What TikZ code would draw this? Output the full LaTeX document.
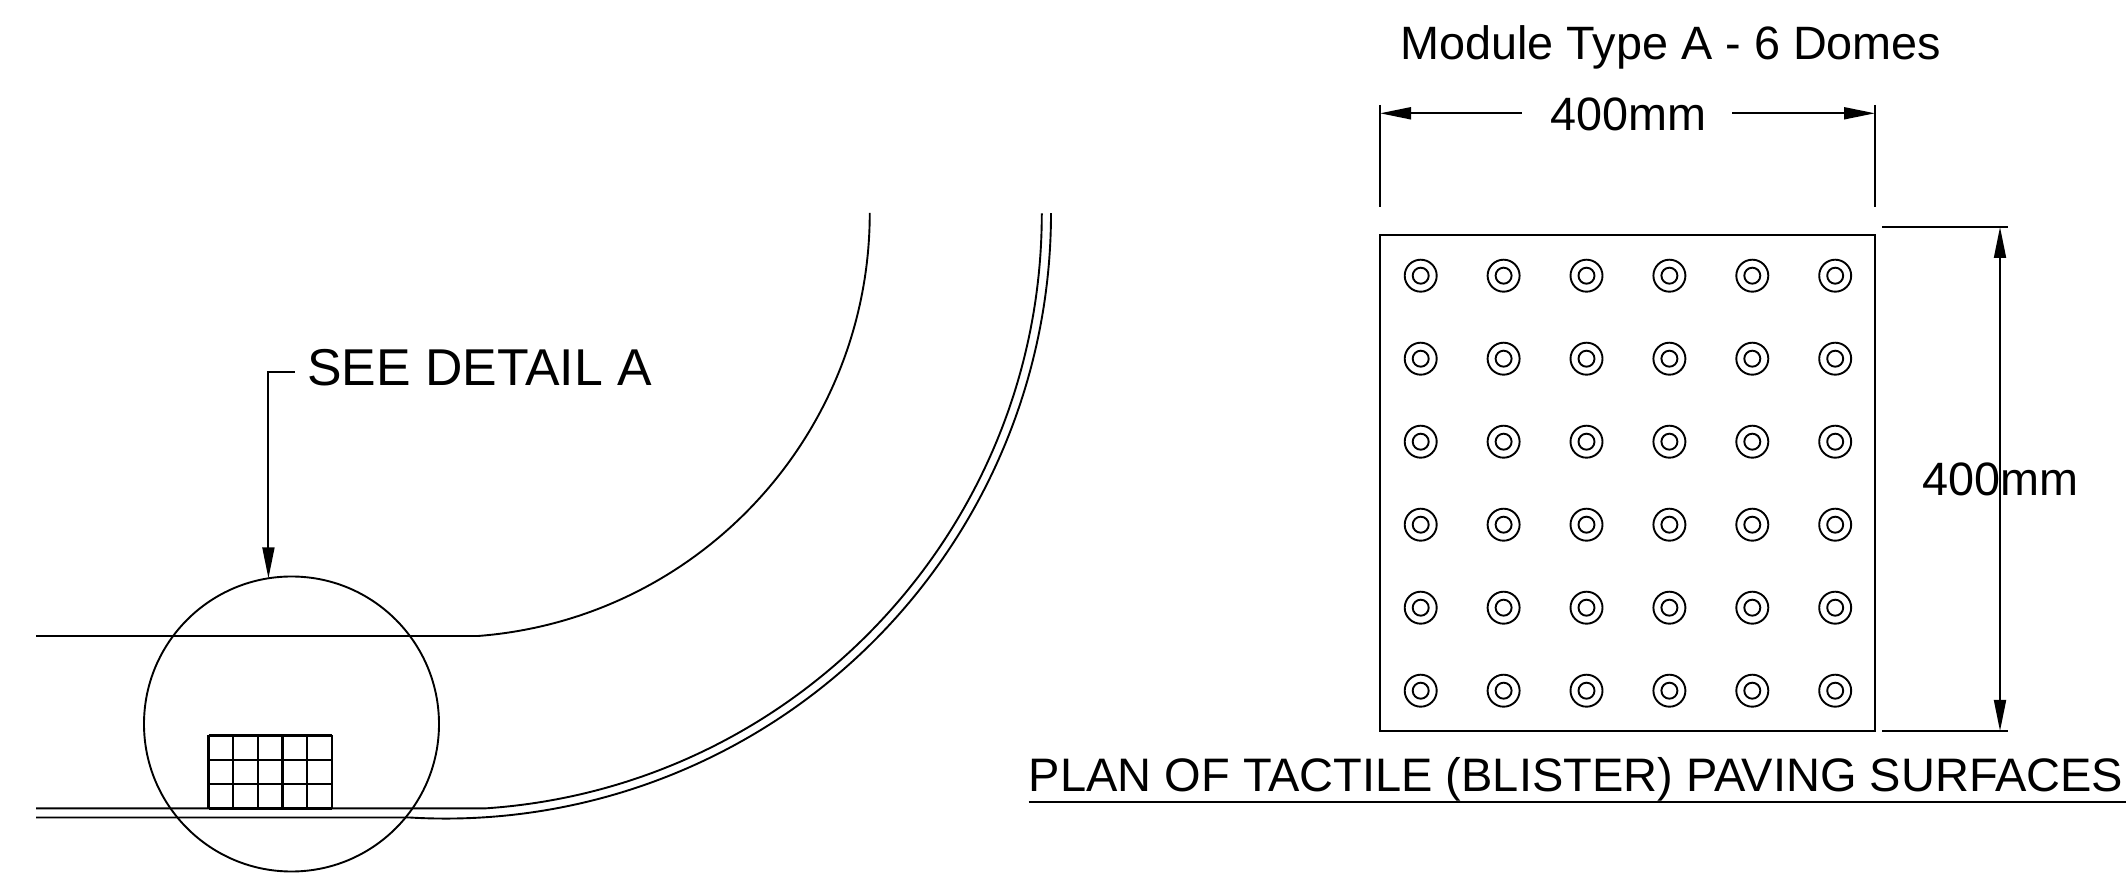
\documentclass[tikz,border=0pt]{standalone}
\usepackage{fontspec}
\setmainfont{Liberation Sans}
\usetikzlibrary{arrows.meta}

\tikzset{
plan/.style={line width=0.95pt, line cap=butt},
dimarrow/.style={plan, -{Triangle[length=15.5pt,width=6pt]}},
bigtext/.style={anchor=base west, inner sep=0pt, font=\fontsize{25.9}{30}\selectfont},
dimtext/.style={anchor=base west, inner sep=0pt, font=\fontsize{23.4}{28}\selectfont},
}

\begin{document}
\begin{tikzpicture}[x=0.5pt, y=0.5pt]

\useasboundingbox (0,0) rectangle (2126,878);

\begin{scope}[plan]
\node[draw, circle, minimum size=147.5pt, inner sep=0pt, outer sep=0pt](detail) at(291.5,154) {};

\draw (36,242) -- (478,242) arc[start angle=-85.6, end angle=0, radius=424.3];
\draw (36,69.6) -- (485,69.6) arc[start angle=-86.2, end angle=0, radius=596.3];
\draw (36,60.5) -- (409.6,60.5) arc[start angle=-93.4, end angle=0, radius=605.5];
\end{scope}

\begin{scope}[plan, line width=1.15pt]
\foreach \i in {0,...,5} {
\draw (208.5+24.64*\i,69.6) -- (208.5+24.64*\i,142.6);
}
\foreach \j in {0,...,3} {
\draw (208.5,69.6+24.33*\j) -- (331.7,69.6+24.33*\j);
}
\end{scope}

\node[bigtext](seedetail) at(307,492.4) {SEE DETAIL A};
\coordinate(leader) at(294.6,506);
\draw[dimarrow] (leader) -| (detail.99.3);

\node[dimtext](moduletitle) at(1400,818.7) {Module Type A - 6 Domes};

\node[draw, plan, minimum width=247.5pt, minimum height=248pt, inner sep=0pt, outer sep=0pt](module) at(1627.5,395) {};

\begin{scope}[plan]
\foreach \i in {0,...,5} {
\foreach \j in {0,...,5} {
\draw (1420.7+82.9*\i,602.3-83*\j) circle[radius=16];
\draw (1420.7+82.9*\i,602.3-83*\j) circle[radius=8];
}
}
\end{scope}

\coordinate(topleft) at(1380,773);
\coordinate(topright) at(1875,773);
\coordinate(leftdrop) at(1380,671.3);
\coordinate(rightdrop) at(1875,671.3);
\draw[plan] (topleft) -- (leftdrop);
\draw[plan] (topright) -- (rightdrop);

\node[dimtext](widthtext) at(1550,747.5) {400mm};
\coordinate(leftgap) at(1521.5,764.7);
\coordinate(rightgap) at(1732,764.7);
\coordinate(leftend) at(1380,764.7);
\coordinate(rightend) at(1875,764.7);
\draw[dimarrow] (leftgap) -- (leftend);
\draw[dimarrow] (rightgap) -- (rightend);

\coordinate(upperstart) at(1882,651);
\coordinate(upperstop) at(2008,651);
\coordinate(lowerstart) at(1882,147);
\coordinate(lowerstop) at(2008,147);
\draw[plan] (upperstart) -- (upperstop);
\draw[plan] (lowerstart) -- (lowerstop);

\coordinate(upperend) at(2000,651);
\coordinate(lowerend) at(2000,147);
\draw[plan, {Triangle[length=15.5pt,width=6pt]}-{Triangle[length=15.5pt,width=6pt]}] (upperend) -- (lowerend);
\node[dimtext](heighttext) at(1922,382) {400mm};

\node[dimtext, font=\fontsize{23.5}{28}\selectfont](plantitle) at(1028.5,86.3) {PLAN OF TACTILE (BLISTER) PAVING SURFACES};
\coordinate(underleft) at(1028.7,76.3);
\coordinate(underright) at(2126,76.3);
\draw[plan] (underleft) -- (underright);

\end{tikzpicture}
\end{document}
